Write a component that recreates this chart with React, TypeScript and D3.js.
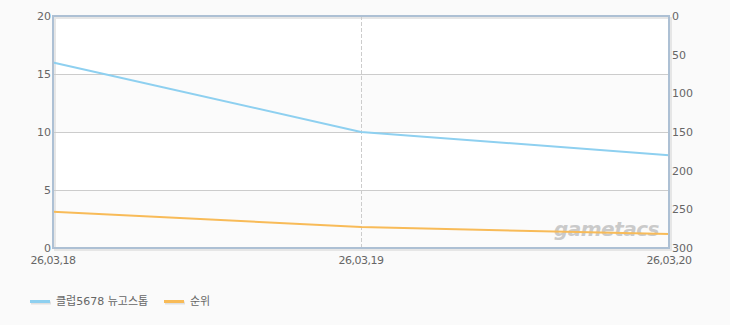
import React from "react";
import * as d3 from "d3";

const categories = ["26,03,18", "26,03,19", "26,03,20"];
const scoreValues = [16, 10, 8];
const rankValues = [253, 273, 282];
const leftTicks = [0, 5, 10, 15, 20];
const rightTicks = [0, 50, 100, 150, 200, 250, 300];
const seriesNames = ["클럽5678 뉴고스톱", "순위"];
const seriesColors = ["#8ed0f0", "#f8bb58"];

const W = 730;
const H = 325;
const M = { left: 53, right: 61, top: 16, bottom: 77 };

export default function App() {
  const x = d3
    .scalePoint<string>()
    .domain(categories)
    .range([M.left, W - M.right]);
  const yL = d3.scaleLinear().domain([0, 20]).range([H - M.bottom, M.top]);
  const yR = d3.scaleLinear().domain([0, 300]).range([M.top, H - M.bottom]);

  const lineL = d3
    .line<number>()
    .x((_, i) => x(categories[i])!)
    .y((d) => yL(d));
  const lineR = d3
    .line<number>()
    .x((_, i) => x(categories[i])!)
    .y((d) => yR(d));

  const font = "'DejaVu Sans', 'Noto Sans CJK KR', sans-serif";
  const x0 = M.left;
  const x1 = W - M.right;
  const yTop = M.top;
  const yBot = H - M.bottom;

  return (
    <div style={{ position: "absolute", left: 0, top: 0, width: W, height: H }}>
      <svg width={W} height={H} style={{ display: "block", background: "#fafafa" }}>
        {leftTicks.slice(0, -1).map((t, i) => (
          <rect
            key={"band" + t}
            x={x0}
            y={yL(leftTicks[i + 1])}
            width={x1 - x0}
            height={yL(t) - yL(leftTicks[i + 1])}
            fill={i % 2 === 0 ? "#fbfbfb" : "#ffffff"}
          />
        ))}
        <rect x={x0 + 2} y={yTop + 2} width={x1 - x0} height={yBot - yTop} fill="none" stroke="#e6e6e6" strokeWidth={2} />
        {leftTicks.slice(1, -1).map((t) => (
          <line key={"g" + t} x1={x0} x2={x1} y1={yL(t) + 0.5} y2={yL(t) + 0.5} stroke="#cccccc" strokeWidth={1} />
        ))}
        {categories.slice(1, -1).map((c) => (
          <line
            key={"v" + c}
            x1={x(c)! + 0.5}
            x2={x(c)! + 0.5}
            y1={yTop}
            y2={yBot}
            stroke="#cccccc"
            strokeWidth={1}
            strokeDasharray="4,2"
          />
        ))}
        <text
          x={x1 - 10}
          y={yBot - 12}
          textAnchor="end"
          fontFamily="'DejaVu Sans', sans-serif"
          fontSize={20}
          fontWeight="bold"
          fontStyle="italic"
          fill="#cacaca"
          letterSpacing={-0.5}
        >
          gametacs
        </text>
        <path d={lineL(scoreValues)!} fill="none" stroke={seriesColors[0]} strokeWidth={2} />
        <path d={lineR(rankValues)!} fill="none" stroke={seriesColors[1]} strokeWidth={2} />
        <rect x={x0} y={yTop} width={x1 - x0} height={yBot - yTop} fill="none" stroke="#adc0d4" strokeWidth={2} />
        {leftTicks.map((t) => (
          <text key={"l" + t} x={x0 - 2} y={yL(t) + 4} textAnchor="end" fontFamily={font} fontSize={11} fill="#666">
            {t}
          </text>
        ))}
        {rightTicks.map((t) => (
          <text key={"r" + t} x={x1 + 3} y={yR(t) + 4} textAnchor="start" fontFamily={font} fontSize={11} fill="#666">
            {t}
          </text>
        ))}
        {categories.map((c) => (
          <text
            key={"x" + c}
            x={x(c)!}
            y={yBot + 16}
            textAnchor="middle"
            fontFamily={font}
            fontSize={11}
            fill="#666"
            letterSpacing={-0.5}
          >
            {c}
          </text>
        ))}
        {seriesNames.map((name, i) => {
          const lx = i === 0 ? 30 : 164;
          return (
            <g key={"lg" + i}>
              <line x1={lx + 1} x2={lx + 21} y1={303} y2={303} stroke="#e0e0e0" strokeWidth={3} />
              <line x1={lx} x2={lx + 20} y1={301.5} y2={301.5} stroke={seriesColors[i]} strokeWidth={3} />
              <text x={lx + 26} y={305} fontFamily={font} fontSize={11} fill="#666">
                {name}
              </text>
            </g>
          );
        })}
      </svg>
    </div>
  );
}
